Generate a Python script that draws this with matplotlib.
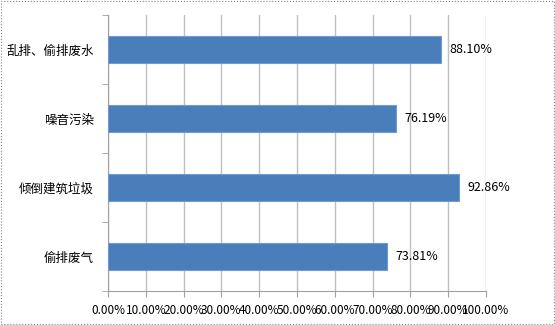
import matplotlib
matplotlib.use("Agg")
import matplotlib.pyplot as plt
from matplotlib.ticker import FixedLocator
from matplotlib.patches import Rectangle

plt.rcParams['font.family'] = ['Noto Sans CJK SC', 'DejaVu Sans']

categories = ["乱排、偷排废水", "噪音污染", "倾倒建筑垃圾", "偷排废气"]
values = [88.10, 76.19, 92.86, 73.81]
value_labels = ["88.10%", "76.19%", "92.86%", "73.81%"]
xticks = [0, 10, 20, 30, 40, 50, 60, 70, 80, 90, 100]
xtick_labels = ["0.00%", "10.00%", "20.00%", "30.00%", "40.00%", "50.00%",
                "60.00%", "70.00%", "80.00%", "90.00%", "100.00%"]

fig = plt.figure(figsize=(5.55, 3.25), dpi=100)
ax = fig.add_axes([108/555, 1 - 291/325, (486-108)/555, (291-15)/325])

n = len(categories)
ypos = list(range(n))
ax.barh(ypos, values, height=0.39, color="#4a7ebb", edgecolor="#6f9bd0", linewidth=0.8, zorder=3)
ax.set_ylim(n - 0.5, -0.5)
ax.set_xlim(0, 100)

ax.set_yticks(ypos)
ax.set_yticklabels(categories, fontsize=9)
ax.yaxis.set_minor_locator(FixedLocator([i - 0.5 for i in range(n + 1)]))
ax.tick_params(axis='y', which='major', length=0, pad=10)
ax.tick_params(axis='y', which='minor', length=4, color="#a0a0a0")

ax.set_xticks(xticks)
ax.set_xticklabels(xtick_labels, fontsize=8.5)
ax.tick_params(axis='x', length=4, color="#a0a0a0", pad=5)

ax.grid(axis='x', color="#c0c0c0", linewidth=1, zorder=0)
for s in ['top', 'right']:
    ax.spines[s].set_visible(False)
for s in ['left', 'bottom']:
    ax.spines[s].set_color("#a0a0a0")

for y, v, lab in zip(ypos, values, value_labels):
    ax.annotate(lab, (v, y), xytext=(6, 0), textcoords='offset points',
                va='center', ha='left', fontsize=9, color="#000000")

fig.patches.append(Rectangle((0.002, 0.003), 0.996, 0.994, transform=fig.transFigure,
                             fill=False, edgecolor="#808080", linewidth=0.8, linestyle=':'))

fig.savefig("out.png", dpi=100)
